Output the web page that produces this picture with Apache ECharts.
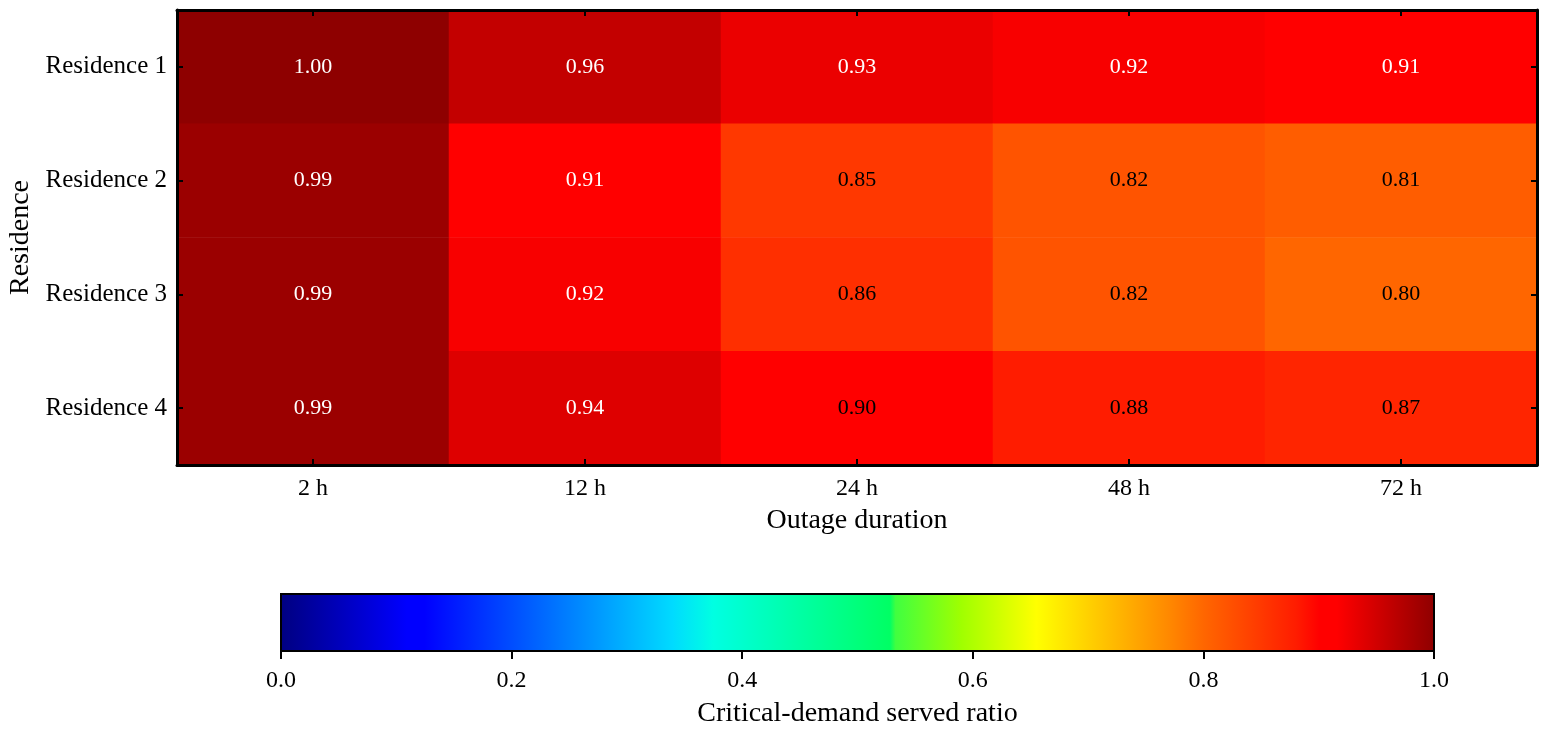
<!DOCTYPE html>
<html>
<head>
<meta charset="utf-8">
<script src="https://cdn.jsdelivr.net/npm/echarts@6/dist/echarts.min.js"></script>
<style>
  html, body { margin: 0; background: #fff; }
  #chart { width: 1547px; height: 732px; }
</style>
</head>
<body>
<div id="chart"></div>
<script>
// data
const durations = ['2 h', '12 h', '24 h', '48 h', '72 h'];
const residences = ['Residence 1', 'Residence 2', 'Residence 3', 'Residence 4'];
const residence1 = [1.00, 0.96, 0.93, 0.92, 0.91];
const residence2 = [0.99, 0.91, 0.85, 0.82, 0.81];
const residence3 = [0.99, 0.92, 0.86, 0.82, 0.80];
const residence4 = [0.99, 0.94, 0.90, 0.88, 0.87];
const ratioRows = [residence1, residence2, residence3, residence4];
const colorbarMin = 0;
const colorbarMax = 1;
const colorbarStep = 0.2;

// jet-like colour map used by the figure
const cmapStops = [
  [0, '#000080'], [0.11, '#0000ff'], [0.125, '#0000ff'], [0.34, '#00dbff'],
  [0.375, '#00ffe2'], [0.528, '#00ff64'], [0.533, '#40ff40'], [0.59, '#a0ff00'],
  [0.655, '#ffff00'], [0.77, '#ff8800'], [0.80, '#ff6600'], [0.85, '#ff3800'],
  [0.88, '#ff1c00'], [0.90, '#ff0000'], [0.915, '#ff0000'], [1, '#8e0000']
];

function hexToRgb(h) {
  return [parseInt(h.slice(1, 3), 16), parseInt(h.slice(3, 5), 16), parseInt(h.slice(5, 7), 16)];
}
function cmap(t) {
  for (let i = 1; i < cmapStops.length; i++) {
    const [t1, c1] = cmapStops[i];
    const [t0, c0] = cmapStops[i - 1];
    if (t <= t1) {
      const f = t1 === t0 ? 0 : (t - t0) / (t1 - t0);
      const a = hexToRgb(c0), b = hexToRgb(c1);
      const rgb = a.map((v, k) => Math.round(v + (b[k] - v) * f));
      return 'rgb(' + rgb.join(',') + ')';
    }
  }
  return cmapStops[cmapStops.length - 1][1];
}
const cmapColors = [];
for (let i = 0; i <= 500; i++) cmapColors.push(cmap(i / 500));

const heatData = [];
ratioRows.forEach((row, y) => {
  row.forEach((v, x) => {
    heatData.push({
      value: [x, y, v],
      label: { color: v > 0.905 ? '#fff' : '#000' }
    });
  });
});

const serif = "'Liberation Serif', 'Times New Roman', serif";
const blackLine = { show: true, lineStyle: { color: '#000', width: 3 } };
const innerTick = { show: true, inside: true, alignWithLabel: true, length: 6, lineStyle: { color: '#000', width: 2 } };

const chart = echarts.init(document.getElementById('chart'));
chart.setOption({
  animation: false,
  textStyle: { fontFamily: serif, color: '#000' },
  grid: [
    { left: 177, top: 10, width: 1360, height: 455, containLabel: false, outerBoundsMode: 'none' },
    {
      left: 281, top: 594, width: 1153, height: 57, show: true,
      containLabel: false, outerBoundsMode: 'none',
      borderColor: '#000', borderWidth: 2,
      backgroundColor: {
        type: 'linear', x: 0, y: 0, x2: 1, y2: 0,
        colorStops: cmapStops.map(s => ({ offset: s[0], color: s[1] }))
      }
    }
  ],
  visualMap: {
    show: false, seriesIndex: 0, min: colorbarMin, max: colorbarMax,
    inRange: { color: cmapColors }
  },
  xAxis: [
    {
      type: 'category', gridIndex: 0, data: durations, position: 'bottom', z: 10,
      axisLine: blackLine, axisTick: innerTick,
      axisLabel: { fontSize: 24, color: '#000', margin: 12, fontFamily: serif },
      splitLine: { show: false },
      name: 'Outage duration', nameLocation: 'middle', nameGap: 42,
      nameTextStyle: { fontSize: 28, color: '#000', fontFamily: serif }
    },
    {
      type: 'category', gridIndex: 0, data: durations, position: 'top', z: 10,
      axisLine: blackLine, axisTick: innerTick, axisLabel: { show: false }
    },
    {
      type: 'value', gridIndex: 1, min: colorbarMin, max: colorbarMax, interval: colorbarStep,
      position: 'bottom',
      axisLine: { show: false },
      axisTick: { show: true, length: 8, lineStyle: { color: '#000', width: 2 } },
      axisLabel: {
        fontSize: 24, color: '#000', margin: 18, fontFamily: serif,
        formatter: v => v.toFixed(1)
      },
      splitLine: { show: false },
      name: 'Critical-demand served ratio', nameLocation: 'middle', nameGap: 49,
      nameTextStyle: { fontSize: 28, color: '#000', fontFamily: serif }
    }
  ],
  yAxis: [
    {
      type: 'category', gridIndex: 0, data: residences, inverse: true, position: 'left', z: 10,
      axisLine: blackLine, axisTick: innerTick,
      axisLabel: { fontSize: 25, color: '#000', margin: 10, fontFamily: serif },
      splitLine: { show: false },
      name: 'Residence', nameLocation: 'middle', nameGap: 141, nameRotate: 90,
      nameTextStyle: { fontSize: 28, color: '#000', fontFamily: serif }
    },
    {
      type: 'category', gridIndex: 0, data: residences, inverse: true, position: 'right', z: 10,
      axisLine: blackLine, axisTick: innerTick, axisLabel: { show: false }
    },
    { type: 'value', gridIndex: 1, min: 0, max: 1, show: false }
  ],
  series: [
    {
      type: 'heatmap', xAxisIndex: 0, yAxisIndex: 0, data: heatData,
      label: {
        show: true, fontSize: 22, fontFamily: serif,
        formatter: p => p.value[2].toFixed(2)
      },
      emphasis: { disabled: true }
    }
  ]
});
</script>
</body>
</html>
